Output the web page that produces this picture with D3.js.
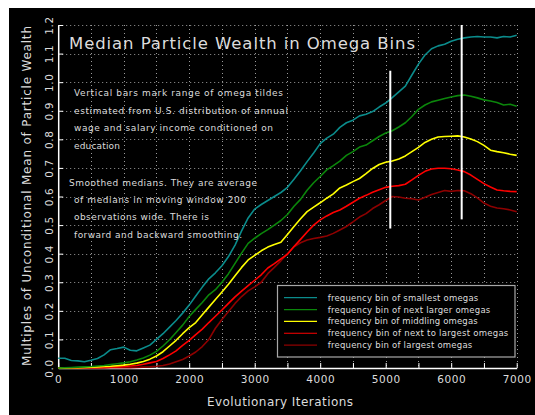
<!DOCTYPE html>
<html>
<head>
<meta charset="utf-8">
<script src="https://cdn.jsdelivr.net/npm/d3@7"></script>
<style>
  html, body { margin: 0; padding: 0; background: #ffffff; }
  svg { display: block; }
  text { font-family: "DejaVu Sans", "Liberation Sans", sans-serif; fill: #dcdcdc; }
</style>
</head>
<body>
<svg id="chart" width="535" height="415"></svg>
<script>
// Iteration steps at which the smoothed medians are sampled
const iterations = d3.range(0, 7001, 100);

// Median particle wealth (multiples of unconditional mean) per omega frequency bin
const smallestOmegas = [
  0.034, 0.034, 0.026, 0.025, 0.022, 0.027, 0.033, 0.046, 0.064, 0.068,
  0.073, 0.062, 0.060, 0.070, 0.080, 0.100, 0.120, 0.143, 0.166, 0.192,
  0.220, 0.252, 0.283, 0.312, 0.333, 0.358, 0.390, 0.430, 0.480, 0.525,
  0.556, 0.572, 0.586, 0.600, 0.614, 0.632, 0.660, 0.690, 0.722, 0.752,
  0.785, 0.804, 0.818, 0.842, 0.858, 0.867, 0.882, 0.888, 0.897, 0.913,
  0.927, 0.946, 0.966, 0.986, 1.025, 1.063, 1.095, 1.117, 1.127, 1.133,
  1.143, 1.150, 1.155, 1.158, 1.160, 1.158, 1.158, 1.155, 1.160, 1.158,
  1.164
];
const nextLargerOmegas = [
  0.000, 0.001, 0.002, 0.003, 0.004, 0.005, 0.007, 0.009, 0.012, 0.015,
  0.018, 0.022, 0.028, 0.035, 0.045, 0.058, 0.077, 0.099, 0.124, 0.150,
  0.180, 0.205, 0.229, 0.256, 0.274, 0.300, 0.330, 0.366, 0.402, 0.436,
  0.454, 0.470, 0.484, 0.500, 0.516, 0.537, 0.566, 0.590, 0.622, 0.648,
  0.670, 0.693, 0.708, 0.724, 0.744, 0.757, 0.773, 0.780, 0.795, 0.810,
  0.822, 0.830, 0.843, 0.858, 0.880, 0.905, 0.920, 0.931, 0.937, 0.943,
  0.948, 0.953, 0.955, 0.951, 0.945, 0.938, 0.934, 0.929, 0.920, 0.923,
  0.916
];
const middlingOmegas = [
  0.000, 0.000, 0.001, 0.001, 0.002, 0.003, 0.004, 0.005, 0.006, 0.008,
  0.010, 0.013, 0.017, 0.023, 0.031, 0.042, 0.057, 0.077, 0.097, 0.120,
  0.141, 0.159, 0.186, 0.213, 0.240, 0.266, 0.293, 0.323, 0.352, 0.378,
  0.394, 0.410, 0.423, 0.432, 0.440, 0.467, 0.495, 0.522, 0.547, 0.563,
  0.578, 0.594, 0.609, 0.630, 0.640, 0.652, 0.663, 0.680, 0.698, 0.712,
  0.720, 0.724, 0.731, 0.742, 0.757, 0.772, 0.789, 0.800, 0.808, 0.810,
  0.811, 0.812, 0.808, 0.801, 0.792, 0.779, 0.762, 0.757, 0.753, 0.748,
  0.744
];
const nextToLargestOmegas = [
  0.000, 0.000, 0.000, 0.000, 0.001, 0.001, 0.001, 0.002, 0.003, 0.004,
  0.005, 0.007, 0.009, 0.013, 0.018, 0.023, 0.033, 0.046, 0.060, 0.079,
  0.097, 0.117, 0.136, 0.159, 0.181, 0.203, 0.226, 0.249, 0.269, 0.288,
  0.307, 0.326, 0.350, 0.365, 0.382, 0.398, 0.425, 0.450, 0.476, 0.500,
  0.518, 0.532, 0.544, 0.553, 0.566, 0.580, 0.594, 0.604, 0.615, 0.624,
  0.632, 0.636, 0.638, 0.643, 0.658, 0.674, 0.688, 0.696, 0.699, 0.699,
  0.697, 0.693, 0.687, 0.675, 0.660, 0.645, 0.633, 0.623, 0.620, 0.618,
  0.617
];
const largestOmegas = [
  0.000, 0.000, 0.000, 0.000, 0.000, 0.000, 0.000, 0.000, 0.001, 0.001,
  0.001, 0.001, 0.002, 0.003, 0.004, 0.006, 0.009, 0.014, 0.022, 0.030,
  0.042, 0.056, 0.075, 0.100, 0.139, 0.170, 0.198, 0.226, 0.250, 0.270,
  0.284, 0.300, 0.330, 0.352, 0.375, 0.400, 0.424, 0.438, 0.448, 0.453,
  0.457, 0.462, 0.471, 0.483, 0.495, 0.511, 0.528, 0.540, 0.558, 0.571,
  0.586, 0.600, 0.598, 0.594, 0.592, 0.588, 0.597, 0.607, 0.614, 0.621,
  0.618, 0.621, 0.620, 0.610, 0.595, 0.577, 0.566, 0.560, 0.557, 0.553,
  0.547
];

const seriesNames = [
  "frequency bin of smallest omegas",
  "frequency bin of next larger omegas",
  "frequency bin of middling omegas",
  "frequency bin of next to largest omegas",
  "frequency bin of largest omegas"
];
const seriesValues = [smallestOmegas, nextLargerOmegas, middlingOmegas, nextToLargestOmegas, largestOmegas];
const seriesColors = ["#0b8c8c", "#0b860b", "#ffff00", "#ff0000", "#8e0000"];

// Range of omega tildes (iteration, low, high)
const barIterations = [5070, 6160];
const barLow = [0.488, 0.52];
const barHigh = [1.04, 1.2];

const xTicks = d3.range(0, 7001, 1000);
const xMinorTicks = d3.range(0, 7001, 500);
const yTicks = d3.range(0, 12.5, 1).map(d => d / 10);

const noteLines = [
  "Vertical bars mark range of omega tildes",
  "estimated from U.S. distribution of annual",
  "wage and salary income conditioned on",
  "education"
];
const smoothLines = [
  "Smoothed medians. They are average",
  "of medians in moving window 200",
  "observations wide. There is",
  "forward and backward smoothing."
];

// ---------------------------------------------------------------
const svg = d3.select("#chart");
svg.append("rect").attr("x", 9).attr("y", 8).attr("width", 526).attr("height", 407).attr("fill", "#000");

const x = d3.scaleLinear().domain([0, 7000]).range([58.2, 516.7]);
const y = d3.scaleLinear().domain([0, 1.2]).range([368, 25]);

// dotted grid
const grid = svg.append("g").attr("stroke", "#9a9a9a").attr("stroke-width", 1).attr("stroke-dasharray", "1,3");
grid.selectAll("line.v").data(xMinorTicks.filter(d => d > 0)).join("line")
  .attr("x1", d => Math.round(x(d)) + 0.5).attr("x2", d => Math.round(x(d)) + 0.5)
  .attr("y1", y(1.2)).attr("y2", y(0));
grid.selectAll("line.h").data(yTicks.filter(d => d > 0)).join("line")
  .attr("x1", x(0)).attr("x2", x(7000))
  .attr("y1", d => Math.round(y(d)) + 0.5).attr("y2", d => Math.round(y(d)) + 0.5);

// axes (ticks point inward)
const xAxis = d3.axisBottom(x).tickValues(xMinorTicks).tickSizeInner(-5).tickSizeOuter(0)
  .tickFormat(d => d % 1000 === 0 ? d : "");
const gx = svg.append("g").attr("transform", `translate(0,${y(0)})`).call(xAxis);
gx.select(".domain").attr("stroke", "#fff").attr("stroke-width", 1.5);
gx.selectAll(".tick line").attr("stroke", "#fff");
gx.selectAll(".tick text").attr("y", 8).attr("font-size", 10.5).attr("fill", "#dcdcdc")
  .style("font-family", "DejaVu Sans").attr("letter-spacing", 0.6);

const yAxis = d3.axisLeft(y).tickValues(yTicks).tickSizeInner(-5).tickSizeOuter(0)
  .tickFormat(d3.format(".1f"));
const gy = svg.append("g").attr("transform", `translate(${x(0)},0)`).call(yAxis);
gy.select(".domain").attr("stroke", "#fff").attr("stroke-width", 1.5);
gy.selectAll(".tick line").attr("stroke", "#fff");
gy.selectAll(".tick text").attr("x", null).attr("dy", null).attr("text-anchor", "middle")
  .attr("transform", "translate(-6,0) rotate(-90)").attr("y", -0).attr("font-size", 10.5)
  .attr("fill", "#dcdcdc").attr("letter-spacing", 0.6).style("font-family", "DejaVu Sans")
  .attr("dominant-baseline", "auto");
gy.selectAll(".tick text").attr("transform", "translate(-5,0) rotate(-90)");

// series lines
const line = d3.line().x((d, i) => x(iterations[i])).y(d => y(d));
svg.append("g").selectAll("path").data(seriesValues.slice().reverse()).join("path")
  .attr("d", d => line(d)).attr("fill", "none")
  .attr("stroke", (d, i) => seriesColors.slice().reverse()[i]).attr("stroke-width", 1.6)
  .attr("stroke-linejoin", "round");

// omega tilde range bars
svg.append("g").selectAll("line").data(barIterations).join("line")
  .attr("x1", d => x(d)).attr("x2", d => x(d))
  .attr("y1", (d, i) => y(barLow[i])).attr("y2", (d, i) => y(barHigh[i]))
  .attr("stroke", "#fff").attr("stroke-width", 2);

// title
svg.append("text").attr("x", 69).attr("y", 48.5).attr("font-size", 16.5)
  .attr("textLength", 346).attr("lengthAdjust", "spacing")
  .text("Median Particle Wealth in Omega Bins");

// notes
const noteWidths = [209, 214, 199, 46];
svg.append("g").selectAll("text").data(noteLines).join("text")
  .attr("x", 74).attr("y", (d, i) => 95.7 + i * 17.8).attr("font-size", 9)
  .attr("textLength", (d, i) => noteWidths[i]).attr("lengthAdjust", "spacing")
  .text(d => d);
const smoothWidths = [188, 172, 135, 168];
svg.append("g").selectAll("text").data(smoothLines).join("text")
  .attr("x", (d, i) => i === 0 ? 69 : 74).attr("y", (d, i) => 185.7 + i * 17.35).attr("font-size", 9)
  .attr("textLength", (d, i) => smoothWidths[i]).attr("lengthAdjust", "spacing")
  .text(d => d);

// axis titles
svg.append("text").attr("x", 280).attr("y", 406).attr("text-anchor", "middle").attr("font-size", 12)
  .attr("textLength", 146).attr("lengthAdjust", "spacing").text("Evolutionary Iterations");
svg.append("text").attr("transform", "translate(31,196) rotate(-90)").attr("text-anchor", "middle")
  .attr("font-size", 12).attr("textLength", 340).attr("lengthAdjust", "spacing")
  .text("Multiples of Unconditional Mean of Particle Wealth");

// legend
const legend = svg.append("g");
legend.append("rect").attr("x", 277.5).attr("y", 285.5).attr("width", 237.5).attr("height", 71.5)
  .attr("fill", "#000").attr("stroke", "#a8a8a8").attr("stroke-width", 1.2);
const legendWidths = [150.6, 162.6, 150, 180.6, 144.6];
const items = legend.selectAll("g.item").data(seriesNames).join("g")
  .attr("transform", (d, i) => `translate(0,${297.7 + i * 11.85})`);
items.append("line").attr("x1", 284).attr("x2", 317).attr("y1", 0).attr("y2", 0)
  .attr("stroke", (d, i) => seriesColors[i]).attr("stroke-width", 1.2);
items.append("text").attr("x", 327.7).attr("y", 3).attr("font-size", 8.5)
  .attr("textLength", (d, i) => legendWidths[i]).attr("lengthAdjust", "spacing")
  .text(d => d);
</script>
</body>
</html>
